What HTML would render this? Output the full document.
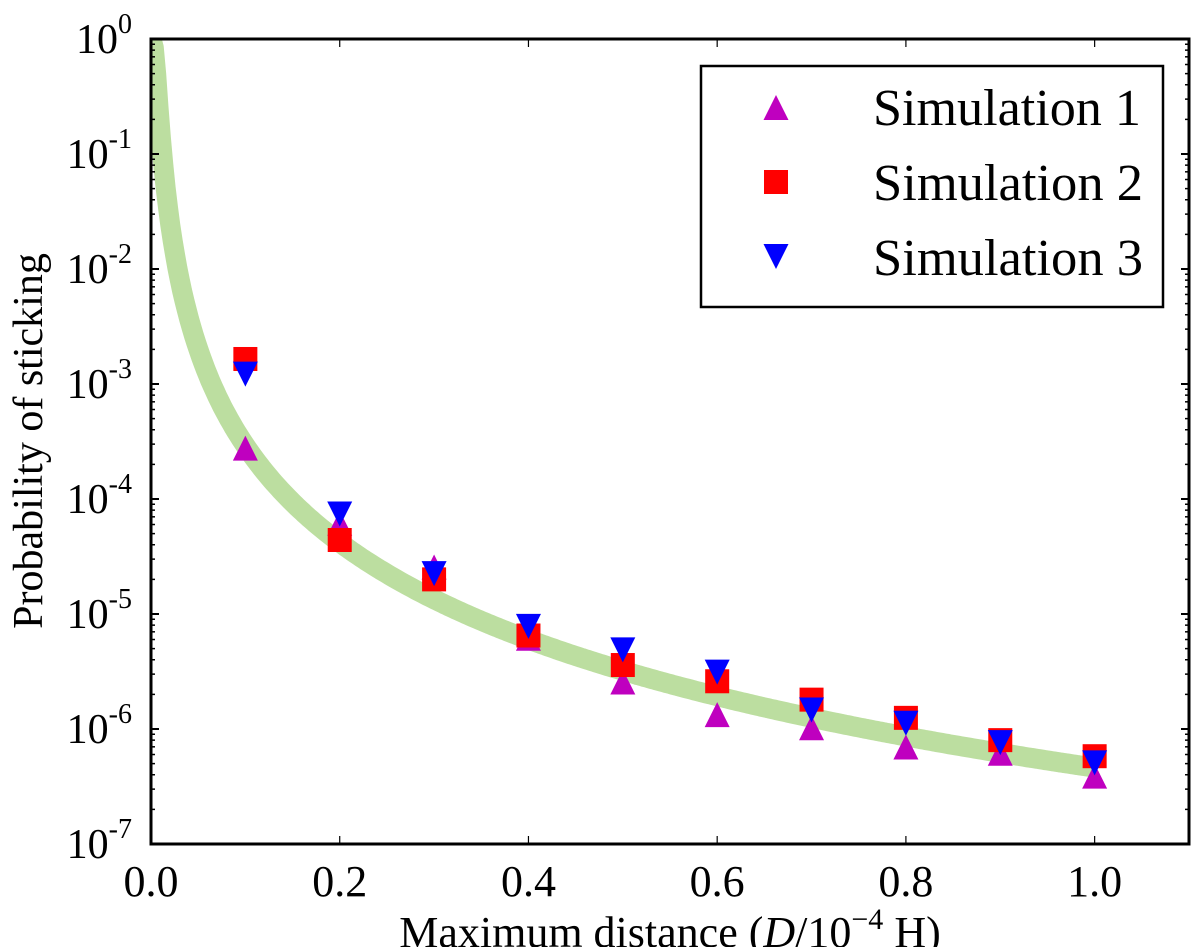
<!DOCTYPE html>
<html><head><meta charset="utf-8"><style>
html,body{margin:0;padding:0;background:#fff;}
svg, svg text, svg tspan{font-family:"Liberation Serif","Times New Roman",Times,"DejaVu Serif","Noto Serif CJK SC",serif !important;}
</style></head><body>
<svg id="chart" width="1200" height="947" viewBox="0 0 1200 947">
<defs><clipPath id="clip"><rect x="151" y="39" width="1038" height="805"/></clipPath></defs>
<g id="band" clip-path="url(#clip)"></g>
<g id="marks"></g>
<g id="axes"></g>
<g>
<rect x="701" y="66" width="462" height="241" fill="#fff" stroke="#000" stroke-width="2.5"/>
<polygon points="763.5,120 788.5,120 776,95" fill="#bf00bf"/>
<rect x="764" y="170" width="24" height="24" fill="#ff0000"/>
<polygon points="763.5,244 788.5,244 776,269" fill="#0000ff"/>
<text x="873" y="125" font-size="52" textLength="268" lengthAdjust="spacingAndGlyphs">Simulation 1</text>
<text x="873" y="200" font-size="52" textLength="270" lengthAdjust="spacingAndGlyphs">Simulation 2</text>
<text x="873" y="275" font-size="52" textLength="270" lengthAdjust="spacingAndGlyphs">Simulation 3</text>
</g>
<text transform="translate(42,441) rotate(-90)" text-anchor="middle" font-size="42">Probability of sticking</text>
<text x="670" y="947" text-anchor="middle" font-size="44">Maximum distance (<tspan font-style="italic">D</tspan>/10<tspan dy="-18" font-size="30">−4</tspan><tspan dy="18"> H)</tspan></text>
</svg>
<script>
const xCats = [0.1,0.2,0.3,0.4,0.5,0.6,0.7,0.8,0.9,1.0];
const sim1 = [2.7e-4,6.0e-5,2.5e-5,6.0e-6,2.5e-6,1.3e-6,1.0e-6,6.8e-7,6.0e-7,3.8e-7];
const sim2 = [1.65e-3,4.4e-5,2.0e-5,6.5e-6,3.6e-6,2.6e-6,1.8e-6,1.25e-6,8.0e-7,5.8e-7];
const sim3 = [1.25e-3,7.6e-5,2.3e-5,8.0e-6,5.0e-6,3.2e-6,1.5e-6,1.15e-6,7.8e-7,5.2e-7];
const xTicks = [0.0,0.2,0.4,0.6,0.8,1.0];
const xTickLabels = ["0.0","0.2","0.4","0.6","0.8","1.0"];
const yDecades = [0,-1,-2,-3,-4,-5,-6,-7];
const bandScale = 0.00546, bandExp = 2.8, bandEnd = 1.0;

const X0=151, X1=1189, Y0=39, Y1=844;
const sx = v => X0 + (v-0)/(1.1)*(X1-X0);
const sy = v => Y0 + (-Math.log10(v))/7*(Y1-Y0);
const NS="http://www.w3.org/2000/svg";
function mk(tag, attrs, parent){const e=document.createElementNS(NS,tag);for(const k in attrs)e.setAttribute(k,attrs[k]);parent.appendChild(e);return e;}

const band=document.getElementById('band');
let pts=[];
for(let i=0;i<=400;i++){const x=0.0005+i*(bandEnd/400);const p=1/(1+Math.pow(x/bandScale,bandExp));pts.push(sx(x).toFixed(1)+','+sy(p).toFixed(1));}
const bl=mk('polyline',{points:pts.join(' '),fill:'none',stroke:'#bcdea0','stroke-width':'20','stroke-linejoin':'round','stroke-linecap':'butt'},band);



const marks=document.getElementById('marks');
const h=12.5;
xCats.forEach((x,i)=>{
  const cx=sx(x);
  let y=sy(sim1[i]);
  const t=mk('polygon',{points:`${cx-h},${y+h*0.9} ${cx+h},${y+h*0.9} ${cx},${y-h*1.1}`,fill:'#bf00bf'},marks);
  
  
  y=sy(sim2[i]);
  const s=mk('rect',{x:cx-12,y:y-12,width:24,height:24,fill:'#ff0000'},marks);
  
  
  y=sy(sim3[i]);
  const d=mk('polygon',{points:`${cx-h},${y-h*0.9} ${cx+h},${y-h*0.9} ${cx},${y+h*1.1}`,fill:'#0000ff'},marks);
  
  
});

const axes=document.getElementById('axes');
const fr=mk('rect',{x:X0,y:Y0,width:X1-X0,height:Y1-Y0,fill:'none',stroke:'#000','stroke-width':'3'},axes);


xTicks.forEach((v,i)=>{
  const x=sx(v);
  mk('line',{x1:x,y1:Y1,x2:x,y2:Y1-8,stroke:'#000','stroke-width':'1.2'},axes);
  mk('line',{x1:x,y1:Y0,x2:x,y2:Y0+8,stroke:'#000','stroke-width':'1.2'},axes);
  const t=mk('text',{x:x,y:896,'text-anchor':'middle','font-size':'44'},axes);
  t.textContent=xTickLabels[i];
  
  
});
yDecades.forEach(d=>{
  const y=sy(Math.pow(10,d));
  mk('line',{x1:X0,y1:y,x2:X0+8,y2:y,stroke:'#000','stroke-width':'2'},axes);
  mk('line',{x1:X1,y1:y,x2:X1-8,y2:y,stroke:'#000','stroke-width':'2'},axes);
  if(d>-7){for(let m=2;m<=9;m++){const ym=sy(m*Math.pow(10,d-1));
    mk('line',{x1:X0,y1:ym,x2:X0+4,y2:ym,stroke:'#000','stroke-width':'1.5'},axes);
    mk('line',{x1:X1,y1:ym,x2:X1-4,y2:ym,stroke:'#000','stroke-width':'1.5'},axes);}}
  const t=mk('text',{x:132,y:y+14,'text-anchor':'end','font-size':'42'},axes);
  t.innerHTML='10<tspan dy="-20" font-size="28">'+(d===0?'0':d)+'</tspan>';
  
  
});
</script>
</body></html>
